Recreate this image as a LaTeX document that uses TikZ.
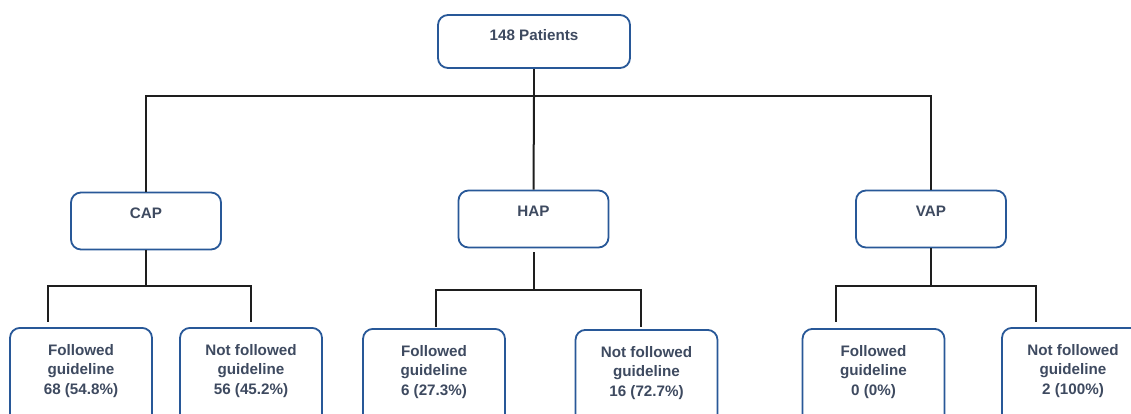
\documentclass[tikz,border=0pt]{standalone}
\usepackage{fontspec}
\setmainfont{Liberation Sans}
\definecolor{boxblue}{RGB}{40,88,152}
\definecolor{textgrey}{RGB}{62,74,96}
\definecolor{linedark}{RGB}{30,30,30}
\begin{document}
\begin{tikzpicture}[x=1pt, y=-1pt,
  box/.style={draw=boxblue, line width=1.8pt, rounded corners=10pt, fill=white,
    text=textgrey, font=\fontsize{15.2}{19.5}\selectfont\bfseries, align=center, inner sep=0pt},
  headbox/.style={box, minimum width=150pt, minimum height=57pt, text height=11pt, text depth=17pt},
  leafbox/.style={box, anchor=north, minimum width=142pt, minimum height=110pt,
    execute at end node={\rule[-27pt]{0pt}{27pt}}},
  link/.style={draw=linedark, line width=2pt}]
  \useasboundingbox (0,0) rectangle (1131,414);
  \clip (0,0) rectangle (1131,414);
  % top level
  \node[box, minimum width=192pt, minimum height=53pt, text height=11pt, text depth=13pt] (root) at (534,41.5) {148 Patients};
  \node[headbox] (cap) at (146,221) {CAP};
  \node[headbox] (hap) at (533.5,219) {HAP};
  \node[headbox] (vap) at (931,219) {VAP};
  % outcomes
  \node[leafbox] (capf) at (81,327) {Followed\\guideline\\68 (54.8\%)};
  \node[leafbox] (capn) at (251,327) {Not followed\\guideline\\56 (45.2\%)};
  \node[leafbox] (hapf) at (434,328) {Followed\\guideline\\6 (27.3\%)};
  \node[leafbox] (hapn) at (646.5,329) {Not followed\\guideline\\16 (72.7\%)};
  \node[leafbox] (vapf) at (873.5,328) {Followed\\guideline\\0 (0\%)};
  \node[leafbox] (vapn) at (1073,327) {Not followed\\guideline\\2 (100\%)};
  % connectors
  \coordinate (bus) at (534,96);
  \draw[link] (root.south) -- (bus);
  \draw[link] (bus) -| (cap.north);
  \draw[link] (bus) -| (vap.north);
  \draw[link] (bus) -- (hap.north);
  \draw[link] (cap.south) -- ++(0,36) coordinate (capfork);
  \draw[link, shorten >=5pt] (capfork) -| ([xshift=39pt]capf.north west);
  \draw[link, shorten >=5pt] (capfork) -| (capn.north);
  \draw[link, shorten <=4pt] (hap.south) -- ++(0,42) coordinate (hapfork);
  \draw[link, shorten >=1pt] (hapfork) -| ([xshift=74pt]hapf.north west);
  \draw[link, shorten >=2pt] (hapfork) -| ([xshift=-5.5pt]hapn.north);
  \draw[link] (vap.south) -- ++(0,38) coordinate (vapfork);
  \draw[link, shorten >=6pt] (vapfork) -| ([xshift=34.5pt]vapf.north west);
  \draw[link, shorten >=5pt] (vapfork) -| ([xshift=35pt]vapn.north west);
\end{tikzpicture}
\end{document}
